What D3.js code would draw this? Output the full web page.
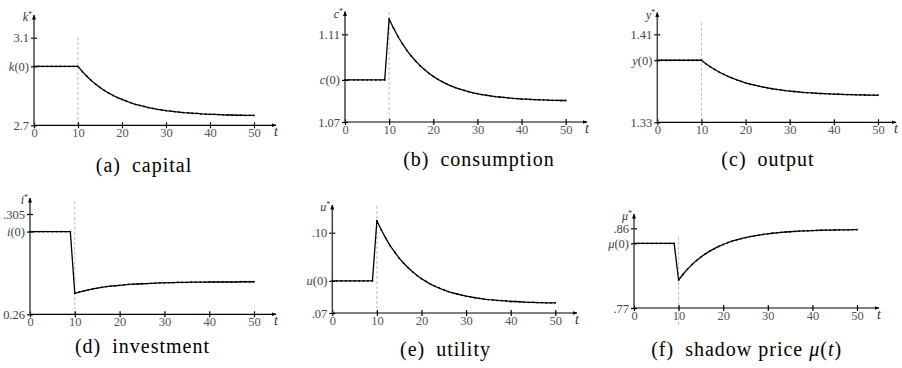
<!DOCTYPE html>
<html>
<head>
<meta charset="utf-8">
<script src="https://cdn.jsdelivr.net/npm/d3@7"></script>
<style>
  body { margin: 0; background: #fff; }
  svg { display: block; }
  svg text { font-family: 'Liberation Serif'; }
</style>
</head>
<body>
<svg width="902" height="368"></svg>
<script>
// time steps shared by every panel
const time = [0,1,2,3,4,5,6,7,8,9,10,11,12,13,14,15,16,17,18,19,20,21,22,23,24,25,
              26,27,28,29,30,31,32,33,34,35,36,37,38,39,40,41,42,43,44,45,46,47,48,49,50];
const xTicks = [0, 10, 20, 30, 40, 50];

const capital = [2.969,2.969,2.969,2.969,2.969,2.969,2.969,2.969,2.969,2.969,
  2.969,2.945,2.924,2.905,2.888,2.873,2.859,2.847,2.836,2.826,2.818,2.810,2.803,2.796,2.791,2.786,
  2.781,2.777,2.773,2.770,2.767,2.765,2.762,2.760,2.758,2.757,2.755,2.754,2.752,2.751,2.750,
  2.750,2.749,2.748,2.747,2.747,2.746,2.746,2.745,2.745,2.745];
const consumption = [1.0892,1.0892,1.0892,1.0892,1.0892,1.0892,1.0892,1.0892,1.0892,1.0892,
  1.1170,1.1128,1.1090,1.1057,1.1027,1.1001,1.0978,1.0957,1.0939,1.0922,1.0908,1.0895,1.0884,1.0874,
  1.0865,1.0857,1.0850,1.0844,1.0838,1.0833,1.0829,1.0825,1.0822,1.0819,1.0816,1.0814,1.0812,1.0810,
  1.0808,1.0807,1.0805,1.0804,1.0803,1.0802,1.0801,1.0801,1.0800,1.0799,1.0799,1.0798,1.0798];
const output = [1.3864,1.3864,1.3864,1.3864,1.3864,1.3864,1.3864,1.3864,1.3864,1.3864,
  1.3864,1.3833,1.3805,1.3780,1.3757,1.3737,1.3718,1.3701,1.3686,1.3672,1.3659,1.3648,1.3638,1.3628,
  1.3620,1.3612,1.3605,1.3599,1.3594,1.3588,1.3584,1.3580,1.3576,1.3572,1.3569,1.3567,1.3564,1.3562,
  1.3560,1.3558,1.3556,1.3555,1.3553,1.3552,1.3551,1.3550,1.3549,1.3548,1.3547,1.3547,1.3546];
const investment = [0.2971,0.2971,0.2971,0.2971,0.2971,0.2971,0.2971,0.2971,0.2971,0.2971,
  0.2694,0.2700,0.2705,0.2710,0.2714,0.2717,0.2721,0.2724,0.2726,0.2728,0.2730,0.2732,0.2734,0.2735,
  0.2736,0.2737,0.2738,0.2739,0.2740,0.2741,0.2741,0.2742,0.2742,0.2743,0.2743,0.2743,0.2744,0.2744,
  0.2744,0.2744,0.2745,0.2745,0.2745,0.2745,0.2745,0.2745,0.2745,0.2746,0.2746,0.2746,0.2746];
const utility = [0.0820,0.0820,0.0820,0.0820,0.0820,0.0820,0.0820,0.0820,0.0820,0.0820,
  0.1045,0.1010,0.0979,0.0951,0.0927,0.0905,0.0886,0.0869,0.0854,0.0840,0.0828,0.0818,0.0808,0.0800,
  0.0793,0.0786,0.0780,0.0775,0.0771,0.0767,0.0763,0.0760,0.0757,0.0755,0.0752,0.0750,0.0749,0.0747,
  0.0746,0.0745,0.0743,0.0743,0.0742,0.0741,0.0740,0.0740,0.0739,0.0739,0.0738,0.0738,0.0738];
const shadowPrice = [0.843,0.843,0.843,0.843,0.843,0.843,0.843,0.843,0.843,0.843,
  0.8016,0.8081,0.8139,0.8190,0.8235,0.8275,0.8311,0.8342,0.8370,0.8395,0.8417,0.8437,0.8454,0.8469,
  0.8483,0.8495,0.8506,0.8515,0.8524,0.8531,0.8538,0.8544,0.8549,0.8554,0.8558,0.8561,0.8565,0.8567,
  0.8570,0.8572,0.8574,0.8576,0.8578,0.8579,0.8580,0.8581,0.8582,0.8583,0.8583,0.8584,0.8585];

// y ticks: [bottom, initial value, top] and their labels
const capitalTicks = [2.7, 2.969, 3.1],       capitalLabels = ["2.7", "k(0)", "3.1"];
const consumptionTicks = [1.07, 1.0892, 1.11], consumptionLabels = ["1.07", "c(0)", "1.11"];
const outputTicks = [1.33, 1.3864, 1.41],      outputLabels = ["1.33", "y(0)", "1.41"];
const investmentTicks = [0.26, 0.2971, 0.305], investmentLabels = ["0.26", "i(0)", ".305"];
const utilityTicks = [0.07, 0.0820, 0.10],     utilityLabels = [".07", "u(0)", ".10"];
const shadowTicks = [0.77, 0.843, 0.86],       shadowLabels = [".77", "μ(0)", ".86"];

const FONT = "'Liberation Serif'";
const svg = d3.select("svg");

svg.append("defs").append("marker")
  .attr("id", "arrow")
  .attr("viewBox", "0 0 10 10")
  .attr("refX", 9).attr("refY", 5)
  .attr("markerWidth", 5).attr("markerHeight", 5)
  .attr("markerUnits", "userSpaceOnUse")
  .attr("orient", "auto")
  .append("path")
  .attr("d", "M0,1 L10,5 L0,9 Z")
  .attr("fill", "#000");

class Panel {
  constructor(opt) {
    this.opt = opt;
    this.g = svg.append("g");
    this.x = d3.scaleLinear().domain([0, 50]).range([opt.left, opt.right]);
    this.y = d3.scaleLinear().domain([opt.ticks[0], opt.ticks[2]]).range([opt.bottom, opt.top]);
  }

  mathLabel(sel, s) {
    // "k(0)" -> italic letter followed by upright "(0)"
    sel.text(null);
    const m = s.match(/^(.)(\(0\))$/);
    if (m) {
      sel.append("tspan").attr("font-style", "italic").text(m[1]);
      sel.append("tspan").text(m[2]);
    } else {
      sel.text(s);
    }
  }

  drawAxes() {
    const o = this.opt, self = this;

    // dashed marker at the shock date
    this.g.append("line")
      .attr("x1", this.x(10)).attr("x2", this.x(10))
      .attr("y1", o.dashTop).attr("y2", o.dashBottom || o.bottom)
      .attr("stroke", "#bbb").attr("stroke-width", 1)
      .attr("stroke-dasharray", "3,2");

    const gx = this.g.append("g")
      .attr("transform", "translate(0," + o.bottom + ")")
      .call(d3.axisBottom(this.x).tickValues(xTicks).tickSize(3).tickPadding(1));
    gx.select(".domain").remove();
    gx.selectAll(".tick line").attr("y1", -3).attr("y2", 3).attr("stroke-width", 1.2);
    gx.selectAll(".tick text")
      .style("font-family", FONT).attr("font-size", 12.5)
      .attr("fill", "#555").attr("dy", "0.62em");

    const gy = this.g.append("g")
      .attr("transform", "translate(" + o.left + ",0)")
      .call(d3.axisLeft(this.y).tickValues(o.ticks).tickSize(3).tickPadding(2)
        .tickFormat((d, i) => o.labels[i]));
    gy.select(".domain").remove();
    gy.selectAll(".tick line").attr("x1", -3).attr("x2", 3).attr("stroke-width", 1.2);
    gy.selectAll(".tick text")
      .style("font-family", FONT).attr("font-size", 12.5)
      .attr("fill", "#444")
      .each(function(d, i) { self.mathLabel(d3.select(this), o.labels[i]); });

    // axis lines with arrow heads
    this.g.append("line")
      .attr("x1", o.left).attr("x2", o.xEnd)
      .attr("y1", o.bottom).attr("y2", o.bottom)
      .attr("stroke", "#000").attr("stroke-width", 1.2)
      .attr("marker-end", "url(#arrow)");
    this.g.append("line")
      .attr("x1", o.left).attr("x2", o.left)
      .attr("y1", o.bottom).attr("y2", o.yEnd)
      .attr("stroke", "#444").attr("stroke-width", 1.5)
      .attr("marker-end", "url(#arrow)");

    // axis names
    const yl = this.g.append("text")
      .attr("x", o.left - 2).attr("y", o.yEnd + 6)
      .attr("text-anchor", "end")
      .attr("font-size", 12).attr("fill", "#333");
    yl.append("tspan").attr("font-style", "italic").text(o.name);
    yl.append("tspan").attr("font-size", 8).attr("dy", -4).text("*");

    this.g.append("text")
      .attr("x", o.xEnd).attr("y", o.bottom + 11)
      .attr("text-anchor", "middle")
      .attr("font-size", 14).attr("font-style", "italic").attr("fill", "#333")
      .text("t");
  }

  drawLine(values) {
    const line = d3.line()
      .x((d, i) => this.x(time[i]))
      .y(d => this.y(d));

    this.g.append("path")
      .datum(values)
      .attr("fill", "none")
      .attr("stroke", "#000")
      .attr("stroke-width", 1.3)
      .attr("stroke-linejoin", "round")
      .attr("d", line);

    this.g.selectAll("circle.pt")
      .data(values)
      .join("circle")
      .attr("class", "pt")
      .attr("cx", (d, i) => this.x(time[i]))
      .attr("cy", d => this.y(d))
      .attr("r", 0.9)
      .attr("fill", "#000");
  }

  drawCaption() {
    const o = this.opt;
    const t = this.g.append("text")
      .attr("x", o.capX).attr("y", o.capY)
      .attr("text-anchor", "middle")
      .attr("font-size", 20).attr("letter-spacing", 1).attr("fill", "#000");
    o.caption.forEach(p => t.append("tspan").attr("font-style", p[1] ? "italic" : null).text(p[0]));
  }

  plot(values) {
    this.drawAxes();
    this.drawLine(values);
    this.drawCaption();
  }
}

const panels = [
  {values: capital, ticks: capitalTicks, labels: capitalLabels, name: "k",
   left: 34, right: 254, bottom: 125.3, top: 37.7, yEnd: 15, xEnd: 276, dashTop: 37,
   capX: 144, capY: 172, caption: [["(a)\u2002capital"]]},
  {values: consumption, ticks: consumptionTicks, labels: consumptionLabels, name: "c",
   left: 345, right: 565.7, bottom: 122, top: 34.3, yEnd: 11.5, xEnd: 587, dashTop: 12,
   capX: 479, capY: 166, caption: [["(b)\u2002consumption"]]},
  {values: output, ticks: outputTicks, labels: outputLabels, name: "y",
   left: 657.3, right: 878, bottom: 122.3, top: 34.3, yEnd: 12.5, xEnd: 896, dashTop: 22.7,
   capX: 768, capY: 166, caption: [["(c)\u2002output"]]},
  {values: investment, ticks: investmentTicks, labels: investmentLabels, name: "i",
   left: 30, right: 254, bottom: 314.3, top: 214, yEnd: 198, xEnd: 276, dashTop: 201.7,
   capX: 142.5, capY: 353, caption: [["(d)\u2002investment"]]},
  {values: utility, ticks: utilityTicks, labels: utilityLabels, name: "u",
   left: 332.3, right: 555.3, bottom: 313, top: 232.7, yEnd: 205, xEnd: 577, dashTop: 206,
   capX: 445.5, capY: 356, caption: [["(e)\u2002utility"]]},
  {values: shadowPrice, ticks: shadowTicks, labels: shadowLabels, name: "μ",
   left: 634, right: 857, bottom: 308, top: 228.3, yEnd: 214, xEnd: 879, dashTop: 236.7, dashBottom: 326,
   capX: 746.7, capY: 356, caption: [["(f)\u2002shadow price "], ["μ", true], ["("], ["t", true], [")"]]}
];

panels.forEach(p => new Panel(p).plot(p.values));
</script>
</body>
</html>
